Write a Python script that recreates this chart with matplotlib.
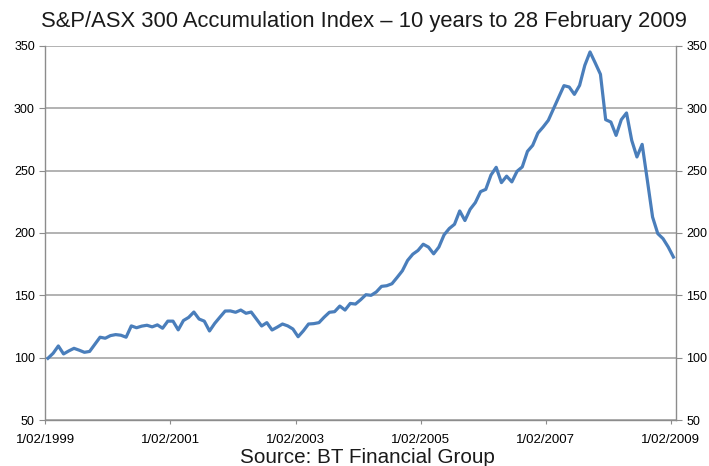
import numpy as np
import matplotlib
matplotlib.use("Agg")
import matplotlib.pyplot as plt

# Monthly S&P/ASX 300 Accumulation Index, Feb 1999 .. Feb 2009 (rebased to 100)
index_values = [
    99.5, 103.5, 109.4, 103.0, 105.4, 107.5, 106.0, 104.3, 105.0, 110.7,
    116.4, 115.6, 117.7, 118.5, 118.0, 116.4, 125.5, 124.0, 125.3, 126.0,
    124.7, 126.3, 123.6, 129.3, 129.3, 122.3, 129.8, 132.3, 136.6, 131.0,
    129.3, 121.4, 127.5, 132.5, 137.4, 137.5, 136.4, 138.2, 135.6, 136.6,
    131.0, 125.4, 128.1, 122.2, 124.5, 127.0, 125.5, 123.0, 116.8, 121.5,
    127.0, 127.3, 128.1, 132.5, 136.4, 136.9, 141.4, 138.2, 143.5, 143.0,
    146.5, 150.5, 150.0, 152.7, 157.2, 157.7, 159.3, 164.4, 169.7, 178.0,
    183.0, 186.0, 191.0, 188.7, 183.3, 188.7, 198.5, 203.6, 207.0, 217.7,
    210.0, 219.0, 224.4, 233.2, 235.0, 246.5, 252.7, 240.4, 245.6, 241.0,
    249.5, 253.0, 265.5, 270.3, 280.2, 285.0, 290.4, 299.7, 309.0, 318.2,
    317.1, 311.2, 318.4, 334.5, 345.2, 336.4, 327.3, 290.9, 289.0, 278.3,
    290.9, 296.3, 274.3, 261.0, 271.1, 242.2, 212.8, 199.5, 195.5, 188.8,
    180.7,
]
x_tick_labels = ["1/02/1999", "1/02/2001", "1/02/2003", "1/02/2005",
                 "1/02/2007", "1/02/2009"]
y_ticks = [50, 100, 150, 200, 250, 300, 350]
title = "S&P/ASX 300 Accumulation Index \u2013 10 years to 28 February 2009"
source = "Source: BT Financial Group"

FONT = ["Liberation Sans", "DejaVu Sans"]
plt.rcParams["font.family"] = FONT

n = len(index_values)
x = np.arange(n) + 0.5  # points centred in their monthly slot

fig = plt.figure(figsize=(7.09, 4.66), dpi=100)
ax = fig.add_axes([0.0639, 0.0987, 0.8896, 0.8026])

grid_col = "#a6a6a6"
ax.plot(x, index_values, color="#4a7ebb", lw=2.3, solid_joinstyle="round", zorder=3)

ax.set_xlim(0, n)
ax.set_ylim(50, 350)
ax.set_yticks(y_ticks)
ax.set_xticks(np.arange(0, n, 24))
ax.set_xticklabels(x_tick_labels)

ax.grid(axis="y", color=grid_col, lw=1.2)
ax.set_axisbelow(True)
ax.spines["top"].set_visible(False)
for s in ["left", "right", "bottom"]:
    ax.spines[s].set_color("#8c8c8c")
    ax.spines[s].set_linewidth(1.0)

ax.tick_params(axis="y", which="both", left=True, right=True,
               labelleft=True, labelright=True, length=4,
               color="#8c8c8c", direction="out", labelsize=9, pad=3.5)
ax.tick_params(axis="x", length=3, color="#8c8c8c", direction="out",
               labelsize=9.5, pad=7)

fig.text(0.513, 0.953, title, ha="center", va="center", fontsize=15.8,
         color="#1a1a1a")
fig.text(0.518, 0.019, source, ha="center", va="center", fontsize=14.9,
         color="#1a1a1a")

fig.savefig("out.png", dpi=100)
